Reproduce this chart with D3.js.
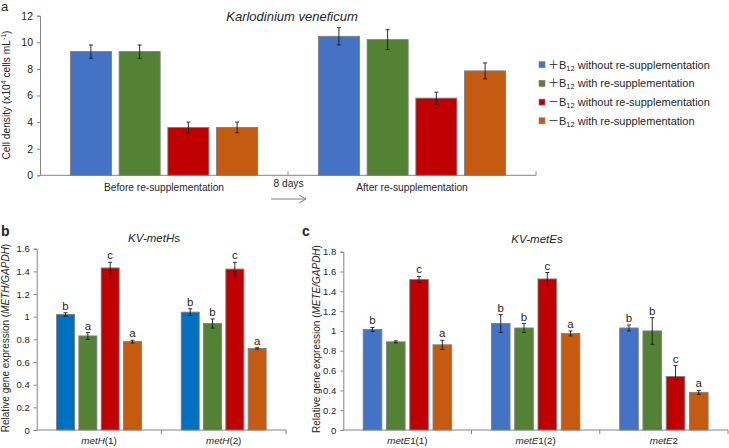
<!DOCTYPE html>
<html><head><meta charset="utf-8">
<script src="https://cdn.jsdelivr.net/npm/d3@7/dist/d3.min.js"></script>
<style>
body{margin:0;background:#fff;}
svg{display:block;font-family:"Liberation Sans",Arial,sans-serif;}
</style></head>
<body><svg id="chart" width="729" height="448"></svg>
<script>
// ---------- DATA ----------
const seriesSigns = ["＋", "＋", "－", "－"];
const seriesSuffix = [" without re-supplementation", " with re-supplementation", " without re-supplementation", " with re-supplementation"];

const aCategories = ["Before re-supplementation", "After re-supplementation"];
const aMeans = [[9.3, 9.3, 3.6, 3.6], [10.45, 10.2, 5.8, 7.85]];
const aErrors = [[0.5, 0.5, 0.4, 0.4], [0.65, 0.75, 0.45, 0.6]];
const aTicks = [0, 2, 4, 6, 8, 10, 12];

const bCategories = ["metH(1)", "metH(2)"];
const bMeans = [[1.02, 0.83, 1.43, 0.78], [1.04, 0.94, 1.42, 0.72]];
const bErrors = [[0.015, 0.03, 0.05, 0.012], [0.03, 0.04, 0.06, 0.006]];
const bLetters = [["b", "a", "c", "a"], ["b", "b", "c", "a"]];
const bTicks = [0, 0.2, 0.4, 0.6, 0.8, 1, 1.2, 1.4, 1.6];

const cCategories = ["metE1(1)", "metE1(2)", "metE2"];
const cMeans = [[1.015, 0.89, 1.52, 0.86], [1.075, 1.03, 1.525, 0.975], [1.03, 1.0, 0.54, 0.38]];
const cErrors = [[0.02, 0.01, 0.03, 0.045], [0.09, 0.045, 0.065, 0.025], [0.03, 0.135, 0.11, 0.02]];
const cLetters = [["b", "", "c", "a"], ["b", "b", "c", "a"], ["b", "b", "c", "a"]];
const cTicks = [0, 0.2, 0.4, 0.6, 0.8, 1, 1.2, 1.4, 1.6, 1.8];

const colorsA = ["#4472C4", "#548235", "#C00000", "#C55A11"];
const colorsB = ["#0070C0", "#548235", "#C00000", "#C55A11"];

// ---------- DRAW ----------
const svg = d3.select("#chart");
const textCol = "#262626";
const axisCol = "#868686";

function panel(o) {
  const g = svg.append("g");
  const x0 = d3.scaleBand().domain(o.cats.map((d, i) => i)).range([o.x0, o.x1]).padding(0);
  const x1 = d3.scaleBand().domain([0, 1, 2, 3]).range([0, x0.bandwidth()])
    .paddingInner(o.pi).paddingOuter(o.po);
  const y = d3.scaleLinear().domain([0, o.ymax]).range([o.y0, o.y1]);

  const ya = d3.axisLeft(y).tickValues(o.ticks).tickSize(3).tickPadding(4)
    .tickFormat(d => d3.format("")(+d.toFixed(1)));
  const yg = g.append("g").attr("transform", `translate(${o.x0},0)`).call(ya);
  yg.select(".domain").attr("stroke", axisCol);
  yg.selectAll(".tick line").attr("stroke", axisCol);
  yg.selectAll(".tick text").attr("fill", textCol).style("font-size", o.tickFs + "px");

  g.append("line").attr("x1", o.x0).attr("x2", o.x1).attr("y1", o.y0).attr("y2", o.y0)
    .attr("stroke", axisCol);
  const bounds = o.cats.map((d, i) => x0(i)).concat([o.x1]).slice(1);
  g.selectAll(".ct").data(bounds).join("line")
    .attr("x1", d => d).attr("x2", d => d)
    .attr("y1", o.y0).attr("y2", o.y0 + o.ctDir * 4).attr("stroke", axisCol);

  o.cats.forEach((cat, ci) => {
    const gg = g.append("g").attr("transform", `translate(${x0(ci)},0)`);
    const rows = o.means[ci].map((m, si) => ({m, e: o.errs[ci][si], si, l: o.letters ? o.letters[ci][si] : ""}));
    gg.selectAll("rect").data(rows).join("rect")
      .attr("x", d => x1(d.si)).attr("width", x1.bandwidth())
      .attr("y", d => y(d.m)).attr("height", d => y(0) - y(d.m))
      .attr("fill", d => o.colors[d.si]).attr("stroke", "#7f7f7f").attr("stroke-width", 0.9);
    const eb = gg.selectAll("g.eb").data(rows).join("g").attr("class", "eb");
    eb.append("line").attr("x1", d => x1(d.si) + x1.bandwidth() / 2).attr("x2", d => x1(d.si) + x1.bandwidth() / 2)
      .attr("y1", d => y(d.m + d.e)).attr("y2", d => y(d.m - d.e)).attr("stroke", "#1a1a1a").attr("stroke-width", 0.9);
    [1, -1].forEach(s => {
      eb.append("line").attr("x1", d => x1(d.si) + x1.bandwidth() / 2 - 2).attr("x2", d => x1(d.si) + x1.bandwidth() / 2 + 2)
        .attr("y1", d => y(d.m + s * d.e)).attr("y2", d => y(d.m + s * d.e)).attr("stroke", "#1a1a1a").attr("stroke-width", 0.9);
    });
    if (o.letters) {
      gg.selectAll("text.lt").data(rows).join("text").attr("class", "lt")
        .attr("x", d => x1(d.si) + x1.bandwidth() / 2).attr("y", d => y(d.m + d.e) - 3)
        .attr("text-anchor", "middle").attr("fill", textCol).style("font-size", "11.5px").text(d => d.l);
    }
    const t = g.append("text").attr("x", x0(ci) + x0.bandwidth() / 2).attr("y", o.labY)
      .attr("text-anchor", "middle").attr("fill", textCol).style("font-size", o.catFs + "px");
    if (o.italicCat) {
      const m = cat.match(/^([a-z]+[A-Z])(.*)$/);
      t.append("tspan").style("font-style", "italic").text(m[1]);
      t.append("tspan").text(m[2]);
    } else t.text(cat);
  });
  return {x0, y};
}

panel({cats: aCategories, means: aMeans, errs: aErrors, ticks: aTicks, ymax: 12,
  x0: 40, x1: 536, y0: 175.3, y1: 15.7, pi: 0.158, po: 0.624, colors: colorsA,
  tickFs: 10.5, catFs: 10.2, labY: 191, ctDir: -1});

panel({cats: bCategories, means: bMeans, errs: bErrors, letters: bLetters, ticks: bTicks, ymax: 1.6,
  x0: 36.7, x1: 286, y0: 430, y1: 248.7, pi: 0.193, po: 0.89, colors: colorsB,
  tickFs: 9.5, catFs: 9.8, labY: 444, italicCat: true, ctDir: 1});

panel({cats: cCategories, means: cMeans, errs: cErrors, letters: cLetters, ticks: cTicks, ymax: 1.8,
  x0: 343.3, x1: 728, y0: 430, y1: 251.7, pi: 0.2, po: 0.855, colors: colorsA,
  tickFs: 9.5, catFs: 9.8, labY: 444, italicCat: true, ctDir: 1});

svg.append("text").attr("x", 292).attr("y", 21).attr("text-anchor", "middle")
  .style("font-style", "italic").style("font-size", "13px").attr("fill", textCol).text("Karlodinium veneficum");

function kvTitle(x, yy, gene) {
  const t = svg.append("text").attr("x", x).attr("y", yy).attr("text-anchor", "middle")
    .style("font-size", "11.5px").attr("fill", textCol);
  t.append("tspan").style("font-style", "italic").text("KV-" + gene);
  t.append("tspan").text("s");
}
kvTitle(154, 242, "metH");
kvTitle(537, 243, "metE");

svg.append("text").attr("x", 1).attr("y", 11).style("font-size", "13px").attr("fill", textCol).text("a");
svg.append("text").attr("x", 1).attr("y", 236).style("font-size", "14px").style("font-weight", "bold").attr("fill", textCol).text("b");
svg.append("text").attr("x", 302).attr("y", 236).style("font-size", "14px").style("font-weight", "bold").attr("fill", textCol).text("c");

const ya = svg.append("text").attr("transform", "translate(10,95) rotate(-90)").attr("text-anchor", "middle")
  .style("font-size", "10.2px").attr("fill", textCol);
ya.append("tspan").text("Cell density (x10");
ya.append("tspan").attr("dy", -4).style("font-size", "7px").text("4");
ya.append("tspan").attr("dy", 4).text(" cells mL");
ya.append("tspan").attr("dy", -4).style("font-size", "7px").text("-1");
ya.append("tspan").attr("dy", 4).text(")");

function relLabel(x, yc, gene) {
  const t = svg.append("text").attr("transform", `translate(${x},${yc}) rotate(-90)`).attr("text-anchor", "middle")
    .style("font-size", "10px").attr("fill", textCol);
  t.append("tspan").text("Relative gene expression (");
  t.append("tspan").style("font-style", "italic").text(gene + "/GAPDH");
  t.append("tspan").text(")");
}
relLabel(9, 338, "METH");
relLabel(320, 339, "METE");

svg.append("text").attr("x", 288.5).attr("y", 187).attr("text-anchor", "middle")
  .style("font-size", "10.2px").attr("fill", textCol).text("8 days");
svg.append("line").attr("x1", 271).attr("x2", 306).attr("y1", 199).attr("y2", 199).attr("stroke", "#808080").attr("stroke-width", 1);
svg.append("path").attr("d", "M299,195 L306,199 L299,203").attr("fill", "none").attr("stroke", "#808080").attr("stroke-width", 1);

const leg = svg.append("g");
const legRows = seriesSigns.map((s, i) => ({s, suf: seriesSuffix[i], c: colorsA[i], i}));
const lg = leg.selectAll("g").data(legRows).join("g").attr("transform", d => `translate(542,${64.7 + d.i * 18.7})`);
lg.append("rect").attr("x", -3).attr("y", -3).attr("width", 6).attr("height", 6).attr("fill", d => d.c).attr("stroke", "#7f7f7f").attr("stroke-width", 0.6);
const lt = lg.append("text").attr("x", 6).attr("y", 4).style("font-size", "11px").attr("fill", textCol);
lt.append("tspan").style("font-family", "'Noto Sans CJK SC'").text(d => d.s);
lt.append("tspan").text("B");
lt.append("tspan").attr("dy", 2).style("font-size", "7.5px").text("12");
lt.append("tspan").attr("dy", -2).text(d => d.suf);
</script></body></html>
